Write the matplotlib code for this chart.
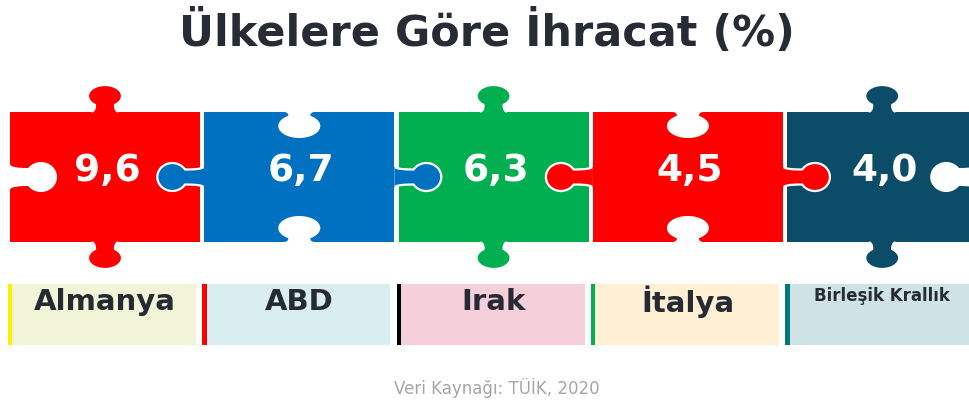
import numpy as np
import matplotlib
matplotlib.use("Agg")
import matplotlib.pyplot as plt
from matplotlib.patches import Rectangle, Polygon

# data
countries = ["Almanya", "ABD", "Irak", "İtalya", "Birleşik Krallık"]
values = [9.6, 6.7, 6.3, 4.5, 4.0]
piece_colors = ["#FF0000", "#0070C0", "#00B050", "#FF0000", "#0B4D68"]
box_colors = ["#F2F4D8", "#D9EEF1", "#F5D0DB", "#FFF0D3", "#CFE3E6"]
bar_colors = ["#FFEE00", "#FF0000", "#000000", "#00B050", "#007A78"]
label_sizes = [21, 21, 21, 21, 12]
title = "Ülkelere Göre İhracat (%)"
source = "Veri Kaynağı: TÜİK, 2020"

# piece layout in pixel units
x0, pw, gap = 10, 190, 4.3
ytop, ybot = 112, 242
yc = (ytop + ybot) / 2


def tab(ru, rv, vc, nw, bw):
    """jigsaw tab outline in local (u along edge, v outward) coords"""
    c = nw / ru
    s = np.sqrt(1 - c * c)
    nv = vc - rv * s
    a = np.arctan2(s, c)
    th = np.linspace(-np.pi + a, -2 * np.pi - a, 80)
    arc = np.column_stack([ru * np.cos(th), vc + rv * np.sin(th)])
    t = np.linspace(0, 1, 12)[:, None]
    p0, p1, p2 = np.array([-bw, 0]), np.array([-nw, 0]), np.array([-nw, nv])
    left = (1 - t) ** 2 * p0 + 2 * (1 - t) * t * p1 + t ** 2 * p2
    right = left[::-1] * np.array([-1, 1])
    return np.vstack([left, arc, right])


def place(uv, base, normal):
    n = np.array(normal, float)
    tg = np.array([-n[1], n[0]])
    return np.array(base) + uv[:, :1] * tg + uv[:, 1:] * n


vknob = tab(17, 11, 16, 10, 15)
vhole = tab(21, 12, 14, 11, 16)
hknob = tab(14, 15, 32, 7.5, 11)
hhole = tab(15, 16, 31, 9, 13)

# top/bottom: knob (+1) or hole (-1); sides likewise
vert = [1, -1, 1, -1, 1]
side_l = [-1, 1, -1, 1, -1]
side_r = [-1, 1, -1, 1, -1]

fig = plt.figure(figsize=(9.7, 4.0), dpi=100)
ax = fig.add_axes([0, 0, 1, 1])
ax.set_xlim(0, 970)
ax.set_ylim(400, 0)
ax.axis("off")

knobs = []
for i, (v, col) in enumerate(zip(values, piece_colors)):
    xl = x0 + i * (pw + gap)
    xr = xl + pw
    xm = (xl + xr) / 2
    ax.add_patch(Rectangle((xl, ytop), pw, ybot - ytop, color=col, lw=0, zorder=1))
    for yb, nrm in [(ytop, (0, -1)), (ybot, (0, 1))]:
        if vert[i] > 0:
            knobs.append((place(vknob, (xm, yb), nrm), col))
        else:
            pts = place(vhole, (xm, yb), (-nrm[0], -nrm[1]))
            ax.add_patch(Polygon(pts, color="white", lw=0, zorder=2))
    # side edges
    if side_l[i] > 0:
        knobs.append((place(hknob, (xl, yc), (-1, 0)), col))
    elif i == 0:
        ax.add_patch(Polygon(place(hhole, (xl, yc), (1, 0)), color="white", lw=0, zorder=2))
    if side_r[i] > 0:
        knobs.append((place(hknob, (xr, yc), (1, 0)), col))
    elif i == len(values) - 1:
        ax.add_patch(Polygon(place(hhole, (xr, yc), (-1, 0)), color="white", lw=0, zorder=2))
    ax.text(xm + 2, yc - 6, f"{v:.1f}".replace(".", ","), color="white",
            fontsize=27, fontweight="bold", family="DejaVu Sans",
            ha="center", va="center", zorder=5)

for pts, col in knobs:
    ax.add_patch(Polygon(pts, closed=True, facecolor=col, edgecolor="none", zorder=3))
    ax.plot(pts[3:-3, 0], pts[3:-3, 1], color="white", lw=1.6, zorder=3.5,
            solid_capstyle="round")

# country boxes
by0, by1 = 284, 345
for i, name in enumerate(countries):
    xl = x0 - 2 + i * (pw + gap)
    ax.add_patch(Rectangle((xl, by0), pw - 2, by1 - by0, color=box_colors[i], lw=0, zorder=1))
    ax.add_patch(Rectangle((xl, by0), 4.5, by1 - by0, color=bar_colors[i], lw=0, zorder=2))
    ty = 296 if label_sizes[i] < 15 else 302
    ax.text(xl + pw / 2 + 2, ty, name, fontsize=label_sizes[i], fontweight="bold",
            family="DejaVu Sans", color="#262B33",
            ha="center", va="center", zorder=4)

ax.text(487, 46, title, fontsize=31, fontweight="bold", family="DejaVu Sans",
        color="#262B36", ha="center", va="baseline")
ax.text(497, 388, source, fontsize=12, family="DejaVu Sans", color="#A6A6A6",
        ha="center", va="center")

fig.savefig("out.png", dpi=100)
